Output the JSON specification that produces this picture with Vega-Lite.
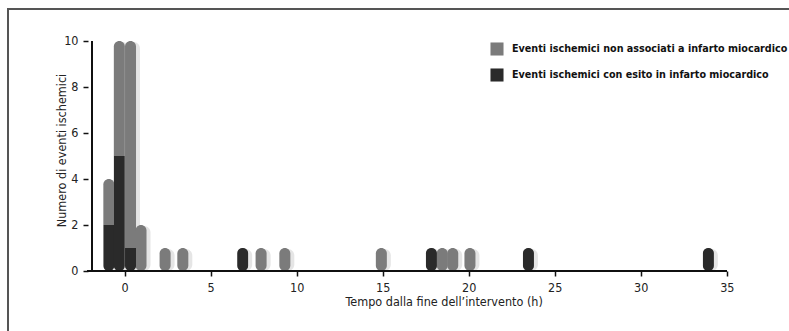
{
  "$schema": "https://vega.github.io/schema/vega-lite/v6.json",
  "autosize": {"type": "none"},
  "width": 793,
  "height": 324,
  "padding": {"left": 8, "top": 9, "right": -12, "bottom": -2},
  "background": "white",
  "config": {
    "view": {"stroke": "#555555", "strokeWidth": 2},
    "font": "DejaVu Sans Condensed, Roboto",
    "axis": {"grid": false, "domain": false, "tickColor": "#111111", "tickSize": 5, "tickWidth": 1.5, "labelColor": "#222222", "labelFontSize": 12.5, "titleColor": "#222222", "titleFontSize": 12.5, "titleFontWeight": "normal"}
  },
  "data": {
    "values": [
      {"ore": -0.92, "tipo": "IM", "eventi": 2},
      {"ore": -0.92, "tipo": "nonIM", "eventi": 2},
      {"ore": -0.31, "tipo": "IM", "eventi": 5},
      {"ore": -0.31, "tipo": "nonIM", "eventi": 5},
      {"ore": 0.34, "tipo": "IM", "eventi": 1},
      {"ore": 0.34, "tipo": "nonIM", "eventi": 9},
      {"ore": 0.95, "tipo": "nonIM", "eventi": 2},
      {"ore": 2.35, "tipo": "nonIM", "eventi": 1},
      {"ore": 3.38, "tipo": "nonIM", "eventi": 1},
      {"ore": 6.86, "tipo": "IM", "eventi": 1},
      {"ore": 7.93, "tipo": "nonIM", "eventi": 1},
      {"ore": 9.31, "tipo": "nonIM", "eventi": 1},
      {"ore": 14.92, "tipo": "nonIM", "eventi": 1},
      {"ore": 17.83, "tipo": "IM", "eventi": 1},
      {"ore": 18.46, "tipo": "nonIM", "eventi": 1},
      {"ore": 19.07, "tipo": "nonIM", "eventi": 1},
      {"ore": 20.07, "tipo": "nonIM", "eventi": 1},
      {"ore": 23.47, "tipo": "IM", "eventi": 1},
      {"ore": 33.93, "tipo": "IM", "eventi": 1}
    ]
  },
  "layer": [
    {
      "mark": {"type": "bar", "width": 13, "cornerRadius": 6.5, "color": "#000000", "opacity": 0.1, "xOffset": 3, "yOffset": 1},
      "encoding": {
        "x": {
          "field": "ore", "type": "quantitative",
          "scale": {"domain": [-6.491, 39.023], "nice": false, "zero": false},
          "axis": {"values": [0, 5, 10, 15, 20, 25, 30, 35], "offset": -62, "labelPadding": 5, "title": "Tempo dalla fine dell’intervento (h)", "titleX": 435.7, "titleY": 24, "titleAlign": "center", "titleBaseline": "top"}
        },
        "y": {
          "aggregate": "sum", "field": "eventi", "type": "quantitative",
          "scale": {"domain": [-2.696, 11.391], "nice": false, "zero": false},
          "axis": {"values": [0, 2, 4, 6, 8, 10], "offset": -80, "labelPadding": 5, "title": "Numero di eventi ischemici", "titleX": -27, "titleY": 141, "titleAngle": 270, "titleAlign": "center", "titleBaseline": "middle"}
        }
      }
    },
    {
      "mark": {"type": "bar", "width": 11, "cornerRadius": 5.5},
      "encoding": {
        "x": {"field": "ore", "type": "quantitative"},
        "y": {"aggregate": "sum", "field": "eventi", "type": "quantitative"},
        "color": {
          "datum": "Eventi ischemici non associati a infarto miocardico", "type": "nominal",
          "scale": {"domain": ["Eventi ischemici non associati a infarto miocardico", "Eventi ischemici con esito in infarto miocardico"], "range": ["#7b7b7b", "#2a2a2a"]},
          "legend": {"orient": "none", "legendX": 482, "legendY": 33, "title": null, "padding": 0, "symbolType": "square", "symbolSize": 170, "symbolStrokeWidth": 0, "labelFontSize": 10.7, "labelFontWeight": "bold", "labelColor": "#111111", "labelLimit": 0, "labelOffset": 8, "rowPadding": 12}
        }
      }
    },
    {
      "transform": [
        {"joinaggregate": [{"op": "sum", "field": "eventi", "as": "totale"}], "groupby": ["ore"]},
        {"filter": "datum.tipo === 'IM' && datum.eventi === datum.totale"}
      ],
      "mark": {"type": "bar", "width": 11, "cornerRadius": 5.5},
      "encoding": {
        "x": {"field": "ore", "type": "quantitative"},
        "y": {"field": "eventi", "type": "quantitative"},
        "color": {"datum": "Eventi ischemici con esito in infarto miocardico", "type": "nominal"}
      }
    },
    {
      "transform": [
        {"joinaggregate": [{"op": "sum", "field": "eventi", "as": "totale"}], "groupby": ["ore"]},
        {"filter": "datum.tipo === 'IM' && datum.eventi < datum.totale"}
      ],
      "mark": {"type": "bar", "width": 11, "cornerRadiusBottomLeft": 5.5, "cornerRadiusBottomRight": 5.5},
      "encoding": {
        "x": {"field": "ore", "type": "quantitative"},
        "y": {"field": "eventi", "type": "quantitative"},
        "color": {"datum": "Eventi ischemici con esito in infarto miocardico", "type": "nominal"}
      }
    },
    {
      "mark": {"type": "rule", "color": "#111111", "strokeWidth": 1.5},
      "encoding": {"y": {"datum": 0}, "x": {"datum": -2.18}, "x2": {"datum": 35}}
    },
    {
      "mark": {"type": "rule", "color": "#111111", "strokeWidth": 1.5},
      "encoding": {"x": {"datum": -1.9}, "y": {"datum": 0}, "y2": {"datum": 10}}
    }
  ]
}
